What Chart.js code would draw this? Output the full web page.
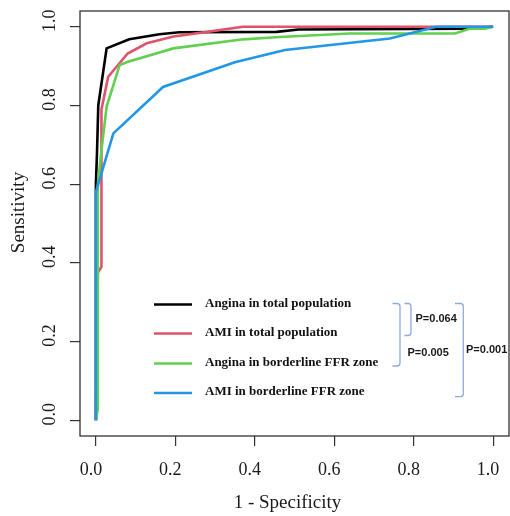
<!DOCTYPE html>
<html>
<head>
<meta charset="utf-8">
<script src="https://cdn.jsdelivr.net/npm/chart.js@4/dist/chart.umd.min.js"></script>
<style>
  html, body { margin: 0; padding: 0; background: #ffffff; }
  #wrap { width: 510px; height: 516px; position: relative; }
</style>
</head>
<body>
<div id="wrap"><canvas id="roc"></canvas></div>
<script>
// ROC curves: false positive rate (1 - specificity) vs sensitivity
const seriesNames = [
  'Angina in total population',
  'AMI in total population',
  'Angina in borderline FFR zone',
  'AMI in borderline FFR zone'
];
const seriesColors = ['#000000', '#DF536B', '#61D04F', '#2297E6'];

const anginaTotalFpr  = [0, 0, 0.003, 0.006, 0.027, 0.084, 0.16, 0.21, 0.455, 0.51, 0.93, 1.0];
const anginaTotalSens = [0, 0.6, 0.686, 0.8, 0.945, 0.968, 0.981, 0.986, 0.987, 0.993, 0.995, 1.0];

const amiTotalFpr  = [0, 0.005, 0.014, 0.014, 0.031, 0.08, 0.128, 0.195, 0.28, 0.37, 1.0];
const amiTotalSens = [0, 0.375, 0.39, 0.79, 0.873, 0.932, 0.958, 0.975, 0.987, 1.0, 1.0];

const anginaBorderFpr  = [0, 0.005, 0.005, 0.014, 0.027, 0.06, 0.081, 0.195, 0.371, 0.463, 0.639, 0.904, 0.941, 0.979, 1.0];
const anginaBorderSens = [0, 0.03, 0.6, 0.686, 0.797, 0.903, 0.911, 0.945, 0.968, 0.974, 0.983, 0.983, 0.995, 0.995, 1.0];

const amiBorderFpr  = [0, 0, 0.044, 0.169, 0.35, 0.476, 0.74, 0.857, 1.0];
const amiBorderSens = [0, 0.58, 0.729, 0.847, 0.91, 0.941, 0.97, 1.0, 1.0];

const xTickValues = [0, 0.2, 0.4, 0.6, 0.8, 1.0];
const xTickLabels = ['0.0', '0.2', '0.4', '0.6', '0.8', '1.0'];
const yTickValues = [0, 0.2, 0.4, 0.6, 0.8, 1.0];
const yTickLabels = ['0.0', '0.2', '0.4', '0.6', '0.8', '1.0'];

const xTitle = '1 - Specificity';
const yTitle = 'Sensitivity';

// pairwise comparisons shown beside the legend
const pValueLabels = ['P=0.064', 'P=0.005', 'P=0.001'];

const fprSets  = [anginaTotalFpr, amiTotalFpr, anginaBorderFpr, amiBorderFpr];
const sensSets = [anginaTotalSens, amiTotalSens, anginaBorderSens, amiBorderSens];

const datasets = seriesNames.map((name, i) => ({
  label: name,
  data: fprSets[i].map((x, k) => ({ x: x, y: sensSets[i][k] })),
  borderColor: seriesColors[i],
  backgroundColor: seriesColors[i],
  borderWidth: 2.6,
  pointRadius: 0,
  showLine: true,
  tension: 0,
  fill: false,
  order: seriesNames.length - i   // later series painted on top
}));

const SERIF = '"Liberation Serif", "Times New Roman", serif';
const SANS = '"Liberation Sans", Arial, sans-serif';

// frame around the plotting region
const framePlugin = {
  id: 'frame',
  afterDraw(chart) {
    const { ctx, chartArea: a } = chart;
    ctx.save();
    ctx.strokeStyle = '#333333';
    ctx.lineWidth = 1.3;
    ctx.strokeRect(a.left, a.top, a.right - a.left, a.bottom - a.top);
    ctx.restore();
  }
};

// tick labels and axis titles in the classic rotated style
const axisTextPlugin = {
  id: 'axisText',
  afterDraw(chart) {
    const { ctx, chartArea: a, scales } = chart;
    ctx.save();
    ctx.fillStyle = '#1a1a1a';
    ctx.textAlign = 'center';
    ctx.textBaseline = 'middle';
    ctx.font = '18px ' + SERIF;
    xTickValues.forEach((v, i) => {
      ctx.fillText(xTickLabels[i], scales.x.getPixelForValue(v) - 5, a.bottom + 34);
    });
    yTickValues.forEach((v, i) => {
      ctx.save();
      ctx.translate(a.left - 30, scales.y.getPixelForValue(v) - 6);
      ctx.rotate(-Math.PI / 2);
      ctx.fillText(yTickLabels[i], 0, 0);
      ctx.restore();
    });
    ctx.font = '19px ' + SERIF;
    ctx.fillText(xTitle, (a.left + a.right) / 2 - 7, a.bottom + 67);
    ctx.save();
    ctx.translate(19, (a.top + a.bottom) / 2 - 11);
    ctx.rotate(-Math.PI / 2);
    ctx.fillText(yTitle, 0, 0);
    ctx.restore();
    ctx.restore();
  }
};

// legend inside the plot plus the comparison brackets
const legendPlugin = {
  id: 'innerLegend',
  afterDraw(chart) {
    const { ctx } = chart;
    const lineX0 = 154, lineX1 = 192, textX = 205;
    const rowY = [303.5, 332.5, 362.5, 392];
    ctx.save();
    ctx.font = 'bold 13px ' + SERIF;
    ctx.textAlign = 'left';
    ctx.textBaseline = 'middle';
    chart.data.datasets.forEach((ds, i) => {
      const y = rowY[i];
      ctx.strokeStyle = ds.borderColor;
      ctx.lineWidth = 2.4;
      ctx.beginPath();
      ctx.moveTo(lineX0, y + 1);
      ctx.lineTo(lineX1, y + 1);
      ctx.stroke();
      ctx.fillStyle = '#111111';
      ctx.fillText(ds.label, textX, y);
    });

    const bracket = (xTip, xBar, yTop, yBot) => {
      const r = 3;
      ctx.beginPath();
      ctx.moveTo(xTip, yTop);
      ctx.lineTo(xBar - r, yTop);
      ctx.quadraticCurveTo(xBar, yTop, xBar, yTop + r);
      ctx.lineTo(xBar, yBot - r);
      ctx.quadraticCurveTo(xBar, yBot, xBar - r, yBot);
      ctx.lineTo(xTip, yBot);
      ctx.stroke();
    };
    ctx.strokeStyle = '#8FAADC';
    ctx.lineWidth = 1.3;
    bracket(392.5, 400, 303.5, 366);
    bracket(404.5, 411, 303.5, 335.5);
    bracket(455, 463.3, 303.5, 396.7);

    ctx.font = 'bold 11px ' + SANS;
    ctx.fillStyle = '#1a1a1a';
    ctx.fillText(pValueLabels[0], 415.5, 319);
    ctx.fillText(pValueLabels[1], 407.5, 352.5);
    ctx.fillText(pValueLabels[2], 466, 349.5);
    ctx.restore();
  }
};

const tickGrid = {
  display: true,
  drawOnChartArea: false,
  drawTicks: true,
  tickLength: 10,
  color: '#333333',
  lineWidth: 1.2
};

new Chart(document.getElementById('roc'), {
  type: 'scatter',
  data: { datasets: datasets },
  options: {
    responsive: true,
    maintainAspectRatio: false,
    animation: false,
    devicePixelRatio: 1,
    layout: { padding: { top: 11, right: 1, bottom: 0, left: 0 } },
    plugins: {
      legend: { display: false },
      tooltip: { enabled: false }
    },
    scales: {
      x: {
        type: 'linear',
        position: 'bottom',
        min: -0.04,
        max: 1.04,
        afterBuildTicks: (scale) => { scale.ticks = xTickValues.map(v => ({ value: v })); },
        afterFit: (scale) => { scale.height = 80; },
        ticks: { display: false },
        grid: tickGrid,
        border: { display: false },
        title: { display: false }
      },
      y: {
        type: 'linear',
        position: 'left',
        min: -0.04,
        max: 1.04,
        afterBuildTicks: (scale) => { scale.ticks = yTickValues.map(v => ({ value: v })); },
        afterFit: (scale) => { scale.width = 80; },
        ticks: { display: false },
        grid: tickGrid,
        border: { display: false },
        title: { display: false }
      }
    }
  },
  plugins: [framePlugin, axisTextPlugin, legendPlugin]
});
</script>
</body>
</html>
